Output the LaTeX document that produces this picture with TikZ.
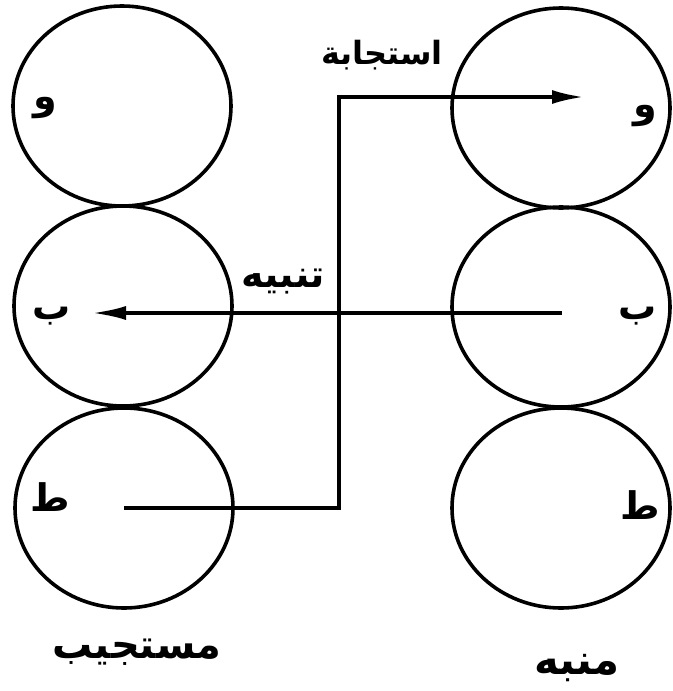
\documentclass[tikz,border=0pt]{standalone}
\usepackage{fontspec}
\newfontfamily\arabicfont[Script=Arabic]{DejaVu Sans}
\TeXXeTstate=1
\usetikzlibrary{shapes.geometric,arrows.meta}
\newcommand{\artext}[1]{\beginR #1\endR}
\begin{document}
\begin{tikzpicture}[x=0.5pt,y=-0.5pt,
        every node/.style={inner sep=0pt},
        ring/.style={draw,ellipse,line width=1.8pt,minimum width=109pt,minimum height=100pt},
        letter/.style={font=\arabicfont\bfseries\fontsize{19}{22}\selectfont},
        caption/.style={font=\arabicfont\bfseries\fontsize{16}{19}\selectfont},
        wire/.style={line width=1.8pt}]
    \useasboundingbox (0,0) rectangle (673,691);
    \node [ring] (lw) at (122,106) {};
    \node [ring] (lb) at (123,306) {};
    \node [ring] (lt) at (124,508) {};
    \node [ring] (rw) at (561,108) {};
    \node [ring] (rb) at (561,307) {};
    \node [ring] (rt) at (561,508) {};
    \node [letter] (lwl) at (45,108) {\artext{و}};
    \node [letter] (lbl) at (52,316) {\artext{ب}};
    \node [letter] (ltl) at (50,497) {\artext{ط}};
    \node [letter] (rwl) at (645,116) {\artext{و}};
    \node [letter] (rbl) at (638,316) {\artext{ب}};
    \node [letter] (rtl) at (640,505) {\artext{ط}};
    \node [caption] (resp) at (382,55) {\artext{استجابة}};
    \node [caption,font=\arabicfont\bfseries\fontsize{19}{22}\selectfont] (alert) at (283,282) {\artext{تنبيه}};
    \node [caption,font=\arabicfont\bfseries\fontsize{20}{23}\selectfont] (subj) at (137,652) {\artext{مستجيب}};
    \node [caption,font=\arabicfont\bfseries\fontsize{21}{24}\selectfont] (stim) at (577,668) {\artext{منبه}};
    \coordinate (low) at (339,508);
    \coordinate (high) at (339,97);
    \coordinate (rtip) at (584,97);
    \coordinate (bstart) at (562,313);
    \coordinate (btip) at (92,313);
    \draw [wire,-{Latex[length=16pt,width=7pt]}] (lt.center) -- (low) -- (high) -- (rtip);
    \draw [wire,-{Latex[length=17pt,width=7pt]}] (bstart) -- (btip);
\end{tikzpicture}
\end{document}
